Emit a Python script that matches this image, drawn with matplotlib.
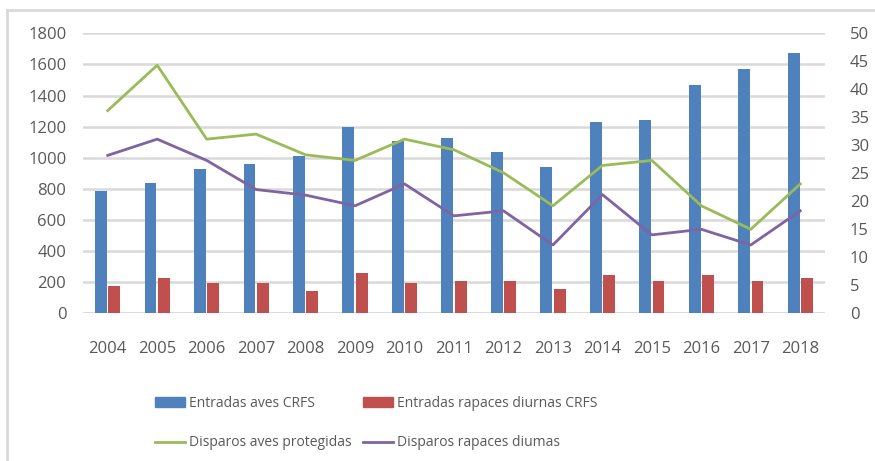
import matplotlib
matplotlib.use('Agg')
import matplotlib.pyplot as plt
from matplotlib.lines import Line2D
import numpy as np

years = ['2004', '2005', '2006', '2007', '2008', '2009', '2010', '2011',
         '2012', '2013', '2014', '2015', '2016', '2017', '2018']
entradas_aves = [788, 840, 925, 960, 1010, 1195, 1110, 1125,
                 1040, 940, 1230, 1245, 1468, 1570, 1672]
entradas_rapaces = [175, 227, 193, 193, 141, 259, 193, 208,
                    208, 158, 244, 208, 244, 208, 227]
disparos_aves = [36.2, 44.3, 31.1, 32.0, 28.3, 27.3, 31.1, 29.2,
                 25.1, 19.2, 26.4, 27.3, 19.2, 15.0, 23.1]
disparos_rapaces = [28.2, 31.1, 27.3, 22.1, 21.1, 19.2, 23.1, 17.4,
                    18.3, 12.2, 21.2, 14.0, 15.0, 12.2, 18.3]

blue = '#4F81BD'
red = '#C0504D'
green = '#9BBB59'
purple = '#8064A2'
grid_c = '#D9D9D9'
text_c = '#595959'

plt.rcParams['font.family'] = ['Open Sans', 'DejaVu Sans']
fs = 12

fig = plt.figure(figsize=(8.75, 4.61), dpi=100)
ax = fig.add_axes([83 / 875, 1 - 313.3 / 461, 742 / 875, 280 / 461])
ax2 = ax.twinx()

x = np.arange(len(years))
w = 0.24
ax.bar(x - 0.135, entradas_aves, w, color=blue, zorder=2)
ax.bar(x + 0.135, entradas_rapaces, w, color=red, zorder=2)
ax2.plot(x, disparos_aves, color=green, lw=2)
ax2.plot(x, disparos_rapaces, color=purple, lw=2)

ax.set_xlim(-0.5, len(years) - 0.5)
ax.set_ylim(0, 1800)
ax.set_yticks(range(0, 1801, 200))
ax2.set_ylim(0, 50)
ax2.set_yticks(range(0, 51, 5))
ax.set_xticks(x)
ax.set_xticklabels(years)
ax.yaxis.grid(True, color=grid_c, lw=1.8, zorder=0)
ax.set_axisbelow(True)

for a in (ax, ax2):
    for s in a.spines.values():
        s.set_visible(False)
    a.tick_params(length=0, colors=text_c, labelsize=fs)
ax.tick_params(axis='y', pad=12)
ax.tick_params(axis='x', pad=20)
ax2.tick_params(axis='y', pad=18)
ax.axhline(0, color=grid_c, lw=1.8, zorder=1)

# chart frame (left and top edges)
fig.add_artist(Line2D([7 / 875, 7 / 875], [0, 1 - 10 / 461], color=grid_c, lw=2))
fig.add_artist(Line2D([7 / 875, 1], [1 - 10 / 461, 1 - 10 / 461], color=grid_c, lw=2))

# legend drawn as two columns
columns = [
    ([plt.Rectangle((0, 0), 1, 1, color=blue), Line2D([], [], color=green, lw=2)],
     ['Entradas aves CRFS', 'Disparos aves protegidas'], 155),
    ([plt.Rectangle((0, 0), 1, 1, color=red), Line2D([], [], color=purple, lw=2)],
     ['Entradas rapaces diurnas CRFS', 'Disparos rapaces diumas'], 363),
]
for handles, labels, left in columns:
    leg = fig.legend(handles, labels, loc='upper left',
                     bbox_to_anchor=(left / 875, 1 - 396 / 461), frameon=False,
                     borderpad=0, borderaxespad=0,
                     handlelength=2.15, handleheight=0.65, handletextpad=0.3,
                     labelspacing=1.75, fontsize=10)
    for t in leg.get_texts():
        t.set_color(text_c)

fig.savefig('out.png', dpi=100)
